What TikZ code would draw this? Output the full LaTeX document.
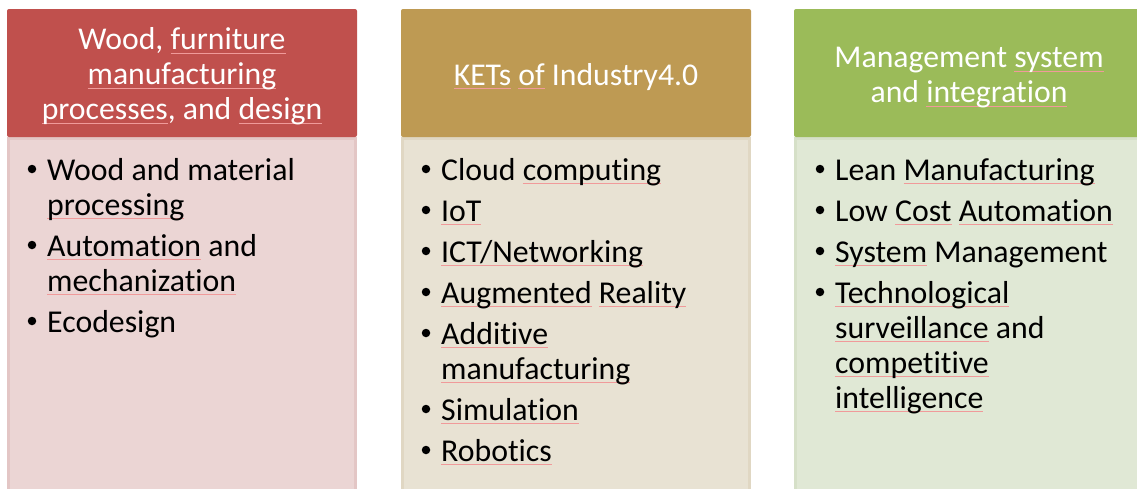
\documentclass[tikz,border=0pt]{standalone}
\usepackage{fontspec}
\setmainfont{Carlito}[Ligatures={NoCommon}]

% column colours
\definecolor{hdrA}{HTML}{C0504D}
\definecolor{bodyA}{HTML}{EBD5D4}
\definecolor{edgeA}{HTML}{E3C6C5}
\definecolor{hdrB}{HTML}{BE9A53}
\definecolor{bodyB}{HTML}{E8E2D3}
\definecolor{edgeB}{HTML}{E0D7C3}
\definecolor{hdrC}{HTML}{9BBB59}
\definecolor{bodyC}{HTML}{E0E8D5}
\definecolor{edgeC}{HTML}{D6E0C8}
\definecolor{sqline}{HTML}{F09A9A}

\newcommand\hdrfont{\fontsize{31.7}{35}\selectfont}
\newcommand\itemfont{\fontsize{31.8}{35}\selectfont}
% thin red underline under a word
\newcommand\sq[1]{\setbox0=\hbox{#1}\rlap{\textcolor{sqline}{\rule[-3.8pt]{\wd0}{0.7pt}}}\box0\relax}

\begin{document}
\begin{tikzpicture}[x=1pt,y=-1pt,
  hdrbox/.style={rounded corners=2pt},
  hdrtext/.style={text=white, font=\hdrfont, inner sep=0pt, anchor=base},
  itemtext/.style={text=black, font=\itemfont, inner sep=0pt, anchor=base west},
  bulletdot/.style={circle, fill=black, inner sep=0pt, minimum size=8.5pt}]
\useasboundingbox (0,0) rectangle (1137,488);

% ---- column bodies and headers ----
\fill[bodyA] (7,137) rectangle (357,495);
\draw[edgeA, line width=3pt] (8.5,138.5) rectangle (355.5,495);
\fill[hdrA, hdrbox] (7,9) rectangle (357,137);

\fill[bodyB] (401,137) rectangle (751,495);
\draw[edgeB, line width=3pt] (402.5,138.5) rectangle (749.5,495);
\fill[hdrB, hdrbox] (401,9) rectangle (751,137);

\fill[bodyC] (794,137) rectangle (1144,495);
\draw[edgeC, line width=3pt] (795.5,138.5) rectangle (1142.5,495);
\fill[hdrC, hdrbox] (794,9) rectangle (1144,137);

% ---- header texts ----
\node[hdrtext] (hA1) at (182,49.5) {Wood, \sq{furniture}};
\node[hdrtext] (hA2) at (182,84.5) {\sq{manufacturing}};
\node[hdrtext] (hA3) at (182,119.5) {\sq{processes}, and \sq{design}};

\node[hdrtext] (hB1) at (576,85) {\sq{KETs} \sq{of} Industry4.0};

\node[hdrtext] (hC1) at (969,67.5) {Management \sq{system}};
\node[hdrtext] (hC2) at (969,102.5) {and \sq{integration}};

% ---- first column items ----
\node[bulletdot] (dA1) at (32,169) {};
\node[itemtext] (tA1) at (47,180) {Wood and material};
\node[itemtext] (tA1b) at (47,215) {\sq{processing}};
\node[bulletdot] (dA2) at (32,245) {};
\node[itemtext] (tA2) at (47,256) {\sq{Automation} and};
\node[itemtext] (tA2b) at (47,291) {\sq{mechanization}};
\node[bulletdot] (dA3) at (32,321) {};
\node[itemtext] (tA3) at (47,332) {Ecodesign};

% ---- second column items ----
\node[bulletdot] (dB1) at (426,169) {};
\node[itemtext] (tB1) at (441,180) {Cloud \sq{computing}};
\node[bulletdot] (dB2) at (426,210) {};
\node[itemtext] (tB2) at (441,221) {\sq{IoT}};
\node[bulletdot] (dB3) at (426,251) {};
\node[itemtext] (tB3) at (441,262) {\sq{ICT/Networking}};
\node[bulletdot] (dB4) at (426,292) {};
\node[itemtext] (tB4) at (441,303) {\sq{Augmented} \sq{Reality}};
\node[bulletdot] (dB5) at (426,333) {};
\node[itemtext] (tB5) at (441,344) {\sq{Additive}};
\node[itemtext] (tB5b) at (441,379) {\sq{manufacturing}};
\node[bulletdot] (dB6) at (426,409) {};
\node[itemtext] (tB6) at (441,420) {\sq{Simulation}};
\node[bulletdot] (dB7) at (426,450) {};
\node[itemtext] (tB7) at (441,461) {\sq{Robotics}};

% ---- third column items ----
\node[bulletdot] (dC1) at (820,169) {};
\node[itemtext] (tC1) at (835,180) {Lean \sq{Manufacturing}};
\node[bulletdot] (dC2) at (820,210) {};
\node[itemtext] (tC2) at (835,221) {Low \sq{Cost} \sq{Automation}};
\node[bulletdot] (dC3) at (820,251) {};
\node[itemtext] (tC3) at (835,262) {\sq{System} Management};
\node[bulletdot] (dC4) at (820,292) {};
\node[itemtext] (tC4) at (835,303) {\sq{Technological}};
\node[itemtext] (tC4b) at (835,338) {\sq{surveillance} and};
\node[itemtext] (tC4c) at (835,373) {\sq{competitive}};
\node[itemtext] (tC4d) at (835,408) {\sq{intelligence}};
\end{tikzpicture}
\end{document}
